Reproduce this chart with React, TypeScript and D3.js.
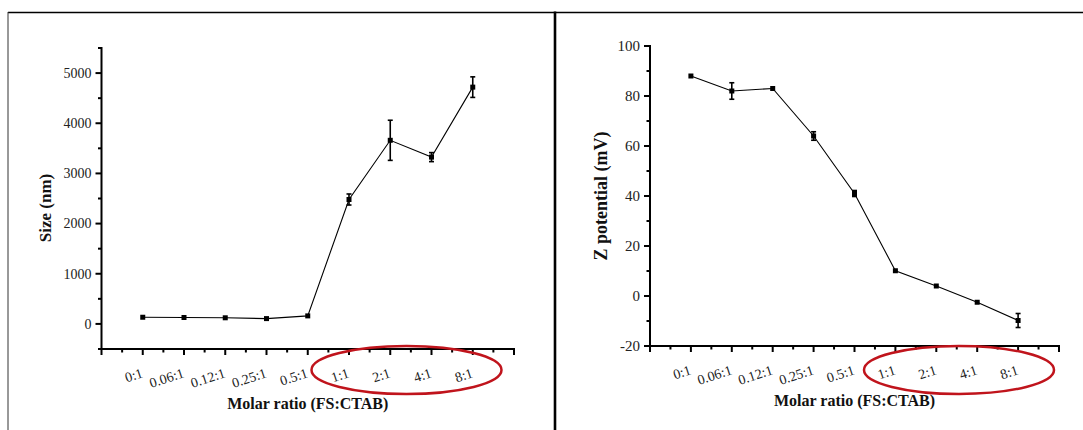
import React from "react";
import * as d3 from "d3";

const categories = ["0:1", "0.06:1", "0.12:1", "0.25:1", "0.5:1", "1:1", "2:1", "4:1", "8:1"];
const sizeValues = [133, 128, 122, 106, 160, 2480, 3660, 3325, 4720];
const sizeErrors = [15, 15, 15, 15, 20, 110, 400, 90, 205];
const zetaValues = [88, 82, 83, 64, 41, 10.1, 4, -2.5, -9.8];
const zetaErrors = [0.8, 3.3, 1, 1.7, 1.2, 0.6, 0.5, 0.4, 2.8];
const sizeTicks = [0, 1000, 2000, 3000, 4000, 5000];
const zetaTicks = [-20, 0, 20, 40, 60, 80, 100];

const FONT = "Liberation Serif, Times New Roman, serif";

type PanelProps = {
  values: number[];
  errors: number[];
  ticks: number[];
  domain: [number, number];
  minorStep: number;
  left: number;
  right: number;
  top: number;
  bottom: number;
  yLabel: string;
  yLabelX: number;
  yLabelY: number;
  yLabelSize: number;
  yTickSize: number;
  ellipse: { cx: number; cy: number; rx: number; ry: number };
};

function Panel(p: PanelProps) {
  const x = d3.scaleLinear().domain([0, 10]).range([p.left, p.right]);
  const y = d3.scaleLinear().domain(p.domain).range([p.bottom, p.top]);
  const xMajor = d3.range(0, 11);
  const xMinor = d3.range(0.5, 10, 1);
  const yMinor = d3.range(p.domain[0], p.domain[1] + 1e-9, p.minorStep).filter(
    (v) => !p.ticks.some((t) => Math.abs(t - v) < 1e-9)
  );
  const pts = p.values.map((v, i) => [x(i + 1), y(v)] as [number, number]);
  const line = d3.line()(pts) || "";
  const cx = (p.left + p.right) / 2;
  return (
    <g>
      <path d={line} fill="none" stroke="#000" strokeWidth={1.1} />
      {p.values.map((v, i) => {
        const e = p.errors[i];
        const xx = x(i + 1);
        const y1 = y(v + e);
        const y2 = y(v - e);
        return (
          <g key={i}>
            {Math.abs(y2 - y1) > 5 && (
              <g stroke="#000" strokeWidth={1.6}>
                <line x1={xx} x2={xx} y1={y1} y2={y2} />
                <line x1={xx - 2.5} x2={xx + 2.5} y1={y1} y2={y1} />
                <line x1={xx - 2.5} x2={xx + 2.5} y1={y2} y2={y2} />
              </g>
            )}
            <rect x={xx - 2.5} y={y(v) - 2.5} width={5} height={5} fill="#000" />
          </g>
        );
      })}
      <line x1={p.left} x2={p.left} y1={p.top - 1} y2={p.bottom + 1} stroke="#000" strokeWidth={2} />
      <line x1={p.left - 1} x2={p.right + 1} y1={p.bottom} y2={p.bottom} stroke="#000" strokeWidth={2} />
      {xMajor.map((t) => (
        <line key={"xm" + t} x1={x(t)} x2={x(t)} y1={p.bottom} y2={p.bottom + 6} stroke="#000" strokeWidth={2} />
      ))}
      {xMinor.map((t) => (
        <line key={"xn" + t} x1={x(t)} x2={x(t)} y1={p.bottom} y2={p.bottom + 3.5} stroke="#000" strokeWidth={2} />
      ))}
      {p.ticks.map((t) => (
        <line key={"ym" + t} x1={p.left - 6} x2={p.left} y1={y(t)} y2={y(t)} stroke="#000" strokeWidth={2} />
      ))}
      {yMinor.map((t) => (
        <line key={"yn" + t} x1={p.left - 3.5} x2={p.left} y1={y(t)} y2={y(t)} stroke="#000" strokeWidth={2} />
      ))}
      {p.ticks.map((t) => (
        <text
          key={"yl" + t}
          x={p.left - 10}
          y={y(t)}
          dy="0.35em"
          textAnchor="end"
          style={{ fontFamily: FONT, fontSize: p.yTickSize }}
          fill="#222"
        >
          {t}
        </text>
      ))}
      {categories.map((c, i) => (
        <text
          key={"xl" + c}
          transform={`translate(${x(i + 1) + 1},${p.bottom + 28}) rotate(-18)`}
          textAnchor="end"
          style={{ fontFamily: FONT, fontSize: 14 }}
          fill="#222"
        >
          {c}
        </text>
      ))}
      <text
        x={cx}
        y={p.bottom + 60}
        textAnchor="middle"
        style={{ fontFamily: FONT, fontSize: 16, fontWeight: "bold" }}
        fill="#111"
      >
        Molar ratio (FS:CTAB)
      </text>
      <text
        transform={`translate(${p.yLabelX},${p.yLabelY}) rotate(-90)`}
        textAnchor="middle"
        style={{ fontFamily: FONT, fontSize: p.yLabelSize, fontWeight: "bold" }}
        fill="#111"
      >
        {p.yLabel}
      </text>
      <ellipse
        cx={p.ellipse.cx}
        cy={p.ellipse.cy}
        rx={p.ellipse.rx}
        ry={p.ellipse.ry}
        fill="none"
        stroke="#c0141c"
        strokeWidth={2.5}
      />
    </g>
  );
}

export default function App() {
  return (
    <div style={{ position: "absolute", left: 0, top: 0 }}>
      <svg width={1083} height={430} style={{ display: "block", background: "#fff" }}>
        <rect x={0} y={0} width={1083} height={430} fill="#fff" />
        <line x1={8} x2={1083} y1={12.5} y2={12.5} stroke="#000" strokeWidth={1.5} />
        <line x1={8} x2={8} y1={12} y2={430} stroke="#333" strokeWidth={1} />
        <line x1={555} x2={555} y1={11.5} y2={430} stroke="#000" strokeWidth={2.6} />
        <Panel
          values={sizeValues}
          errors={sizeErrors}
          ticks={sizeTicks}
          domain={[-500, 5500]}
          minorStep={500}
          left={101.5}
          right={514}
          top={48}
          bottom={349}
          yLabel="Size (nm)"
          yLabelX={51}
          yLabelY={208}
          yLabelSize={17}
          yTickSize={14}
          ellipse={{ cx: 406.5, cy: 370, rx: 95, ry: 24 }}
        />
        <Panel
          values={zetaValues}
          errors={zetaErrors}
          ticks={zetaTicks}
          domain={[-20, 100]}
          minorStep={10}
          left={650}
          right={1059}
          top={46}
          bottom={346}
          yLabel="Z potential (mV)"
          yLabelX={607}
          yLabelY={196}
          yLabelSize={18}
          yTickSize={15}
          ellipse={{ cx: 959, cy: 370, rx: 95, ry: 24 }}
        />
      </svg>
    </div>
  );
}
